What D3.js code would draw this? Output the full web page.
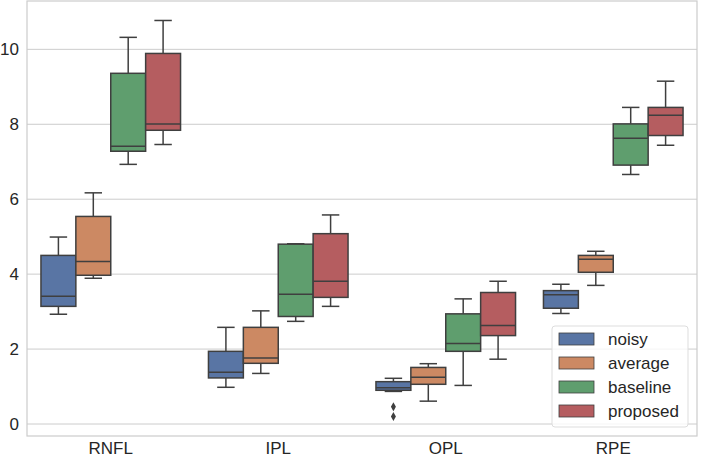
<!DOCTYPE html>
<html>
<head>
<meta charset="utf-8">
<script src="https://cdn.jsdelivr.net/npm/d3@7"></script>
<style>
  body { margin: 0; background: #fff; }
  text { font-family: "Liberation Sans", Arial, sans-serif; fill: #262626; }
</style>
</head>
<body>
<div id="chart"></div>
<script>
// layers on x, methods as hues
const layers = ["RNFL", "IPL", "OPL", "RPE"];
const methods = ["noisy", "average", "baseline", "proposed"];
const colors = ["#5975a4", "#cc8963", "#5f9e6e", "#b55d60"];
const yTicks = [0, 2, 4, 6, 8, 10];

// per layer: [whisker low, q1, median, q3, whisker high]
const noisy    = [[2.93, 3.14, 3.41, 4.50, 4.99], [0.98, 1.23, 1.38, 1.94, 2.58], [0.87, 0.90, 0.97, 1.13, 1.22], [2.95, 3.09, 3.45, 3.56, 3.73]];
const average  = [[3.89, 3.97, 4.34, 5.54, 6.17], [1.35, 1.62, 1.76, 2.58, 3.02], [0.61, 1.06, 1.25, 1.51, 1.61], [3.70, 4.05, 4.40, 4.50, 4.61]];
const baseline = [[6.93, 7.28, 7.41, 9.36, 10.32], [2.74, 2.87, 3.46, 4.80, 4.81], [1.03, 1.94, 2.15, 2.94, 3.34], [6.66, 6.91, 7.63, 8.01, 8.45]];
const proposed = [[7.46, 7.84, 8.01, 9.89, 10.77], [3.14, 3.38, 3.81, 5.08, 5.58], [1.73, 2.36, 2.63, 3.51, 3.81], [7.44, 7.70, 8.24, 8.45, 9.15]];
// fliers: [layer, method, value]
const outliers = [["OPL", "noisy", 0.46], ["OPL", "noisy", 0.20]];

const series = [noisy, average, baseline, proposed];

const W = 701, H = 461;
const margin = {top: 1, right: 4, bottom: 25, left: 27};
const fontSize = "17px";

const svg = d3.select("#chart").append("svg")
    .attr("width", W)
    .attr("height", H);

const x = d3.scaleBand().domain(layers)
    .range([margin.left, W - margin.right]);
const xHue = d3.scaleBand().domain(methods)
    .range([0, x.bandwidth()]).paddingOuter(0.4);  // 0.8 of band used by boxes
const y = d3.scaleLinear().domain([-0.32, 11.29])
    .range([H - margin.bottom, margin.top]);

// grid
svg.append("g")
    .selectAll("line")
    .data(yTicks)
    .enter().append("line")
    .attr("x1", margin.left).attr("x2", W - margin.right)
    .attr("y1", d => y(d)).attr("y2", d => y(d))
    .style("stroke", "#cccccc")
    .style("stroke-width", 1);

// frame
svg.append("rect")
    .attr("x", margin.left).attr("y", margin.top)
    .attr("width", W - margin.right - margin.left)
    .attr("height", H - margin.bottom - margin.top)
    .style("fill", "none")
    .style("stroke", "#cccccc")
    .style("stroke-width", 1.2);

// axes (tick labels only)
const yAxis = svg.append("g")
    .attr("transform", `translate(${margin.left},0)`)
    .call(d3.axisLeft(y).tickValues(yTicks).tickSize(0).tickPadding(8));
yAxis.select(".domain").remove();
yAxis.selectAll("text").style("font-size", fontSize).style("font-family", '"Liberation Sans", Arial, sans-serif').attr("fill", "#262626");

const xAxis = svg.append("g")
    .attr("transform", `translate(0,${H - margin.bottom})`)
    .call(d3.axisBottom(x).tickSize(0).tickPadding(6));
xAxis.select(".domain").remove();
xAxis.selectAll("text").style("font-size", fontSize).style("font-family", '"Liberation Sans", Arial, sans-serif').attr("fill", "#262626");

// boxes
const lineColor = "#3f3f3f";
const boxes = [];
layers.forEach((layer, i) => {
    methods.forEach((m, j) => {
        const s = series[j][i];
        boxes.push({layer, method: m, color: colors[j], lo: s[0], q1: s[1], med: s[2], q3: s[3], hi: s[4]});
    });
});

const bw = xHue.bandwidth();
const g = svg.append("g")
    .selectAll(".box")
    .data(boxes)
    .enter().append("g")
    .attr("class", "box")
    .attr("transform", d => `translate(${x(d.layer) + xHue(d.method)},0)`);

// whiskers
g.append("line")
    .attr("x1", bw / 2).attr("x2", bw / 2)
    .attr("y1", d => y(d.hi)).attr("y2", d => y(d.q3))
    .style("stroke", lineColor).style("stroke-width", 1.5);
g.append("line")
    .attr("x1", bw / 2).attr("x2", bw / 2)
    .attr("y1", d => y(d.q1)).attr("y2", d => y(d.lo))
    .style("stroke", lineColor).style("stroke-width", 1.5);
// caps
g.append("line")
    .attr("x1", bw / 4).attr("x2", bw * 3 / 4)
    .attr("y1", d => y(d.hi)).attr("y2", d => y(d.hi))
    .style("stroke", lineColor).style("stroke-width", 1.5);
g.append("line")
    .attr("x1", bw / 4).attr("x2", bw * 3 / 4)
    .attr("y1", d => y(d.lo)).attr("y2", d => y(d.lo))
    .style("stroke", lineColor).style("stroke-width", 1.5);

g.append("rect")
    .attr("x", 0).attr("width", bw)
    .attr("y", d => y(d.q3))
    .attr("height", d => y(d.q1) - y(d.q3))
    .style("fill", d => d.color)
    .style("stroke", lineColor).style("stroke-width", 1.5);

g.append("line")
    .attr("x1", 0).attr("x2", bw)
    .attr("y1", d => y(d.med)).attr("y2", d => y(d.med))
    .style("stroke", lineColor).style("stroke-width", 1.5);

// fliers (diamonds)
svg.append("g")
    .selectAll("path")
    .data(outliers)
    .enter().append("path")
    .attr("d", "M0,-4.5L2.5,0L0,4.5L-2.5,0Z")
    .attr("transform", d => `translate(${x(d[0]) + xHue(d[1]) + bw / 2},${y(d[2])})`)
    .style("fill", lineColor);

// legend
const legend = svg.append("g").attr("transform", "translate(552,326)");
legend.append("rect")
    .attr("width", 136).attr("height", 101).attr("rx", 3)
    .style("fill", "rgba(255,255,255,0.8)")
    .style("stroke", "#dddddd");
const item = legend.selectAll(".item")
    .data(methods)
    .enter().append("g")
    .attr("class", "item")
    .attr("transform", (d, i) => `translate(7,${7 + i * 24})`);
item.append("rect")
    .attr("width", 35).attr("height", 12)
    .style("fill", (d, i) => colors[i])
    .style("stroke", lineColor).style("stroke-width", 0.8);
item.append("text")
    .attr("x", 49).attr("y", 6)
    .attr("dy", "0.35em")
    .style("font-size", fontSize)
    .text(d => d);
</script>
</body>
</html>
